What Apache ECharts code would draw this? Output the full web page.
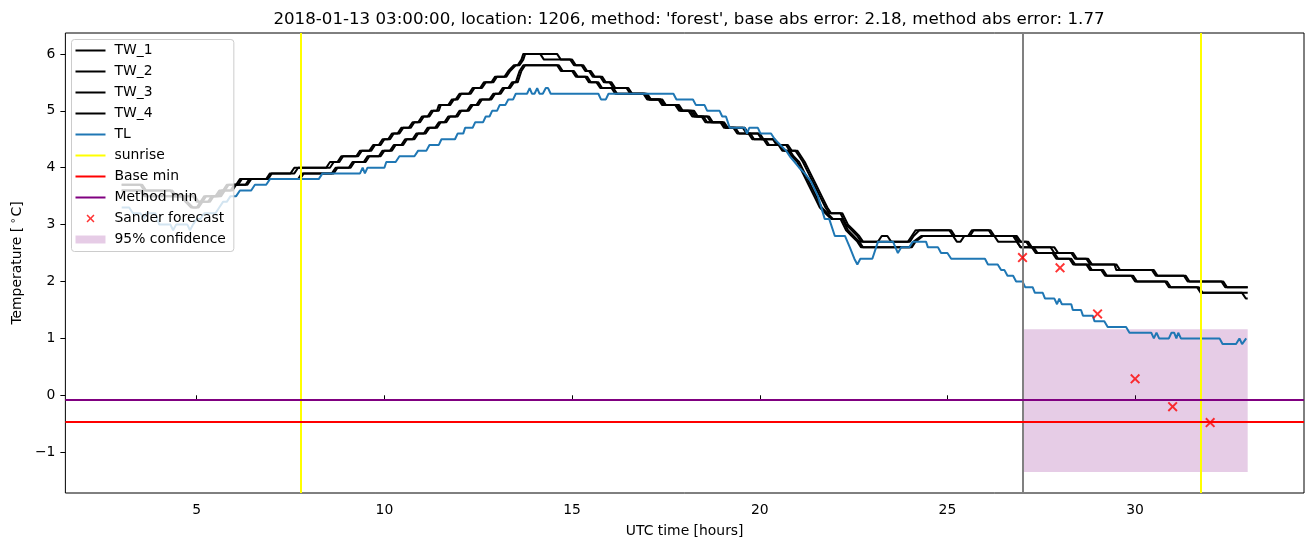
<!DOCTYPE html>
<html><head><meta charset="utf-8">
<script src="https://cdn.jsdelivr.net/npm/echarts@6/dist/echarts.min.js"></script>
<style>html,body{margin:0;padding:0;background:#fff}#c{width:1313px;height:547px}</style>
</head><body><div id="c"></div>
<script>
const titleText = "2018-01-13 03:00:00, location: 1206, method: 'forest', base abs error: 2.18, method abs error: 1.77";
const xTicks = [5, 10, 15, 20, 25, 30];
const yTicks = [-1, 0, 1, 2, 3, 4, 5, 6];

const tw1 = [[3.0,3.7],[3.5,3.7],[3.6,3.6],[4.3,3.6],[4.4,3.5],[4.9,3.5],[5.0,3.4],[5.1,3.4],[5.2,3.5],[5.5,3.5],[5.6,3.6],[5.7,3.6],[5.8,3.7],[6.05,3.7],[6.15,3.8],[6.85,3.8],[6.95,3.9],[7.5,3.9],[7.6,4.0],[8.45,4.0],[8.55,4.1],[8.75,4.1],[8.85,4.2],[9.25,4.2],[9.35,4.3],[9.6,4.3],[9.7,4.4],[9.85,4.4],[9.95,4.5],[10.1,4.5],[10.2,4.6],[10.35,4.6],[10.45,4.7],[10.65,4.7],[10.75,4.8],[10.9,4.8],[11.0,4.9],[11.15,4.9],[11.25,5.0],[11.4,5.0],[11.45,5.1],[11.7,5.1],[11.8,5.2],[11.9,5.2],[12.0,5.3],[12.25,5.3],[12.35,5.4],[12.55,5.4],[12.65,5.5],[12.85,5.5],[12.95,5.6],[13.2,5.6],[13.3,5.7],[13.35,5.7],[13.45,5.8],[13.55,5.8],[13.65,5.9],[13.7,6.0],[14.6,6.0],[14.7,5.9],[14.95,5.9],[15.05,5.8],[15.25,5.8],[15.35,5.7],[15.45,5.7],[15.55,5.6],[15.75,5.6],[15.85,5.5],[16.0,5.5],[16.1,5.4],[16.45,5.4],[16.55,5.3],[16.95,5.3],[17.05,5.2],[17.35,5.2],[17.45,5.1],[17.8,5.1],[17.9,5.0],[18.2,5.0],[18.3,4.9],[18.6,4.9],[18.7,4.8],[19.0,4.8],[19.1,4.7],[19.55,4.7],[19.65,4.6],[19.95,4.6],[20.05,4.5],[20.35,4.5],[20.45,4.4],[20.7,4.4],[20.8,4.3],[20.95,4.3],[21.05,4.2],[21.15,4.1],[21.3,3.9],[21.45,3.7],[21.6,3.5],[21.75,3.3],[21.85,3.2],[22.15,3.2],[22.3,3.0],[22.45,2.9],[22.6,2.8],[22.7,2.7],[23.95,2.7],[24.05,2.8],[24.15,2.9],[25.1,2.9],[25.2,2.8],[25.55,2.8],[25.65,2.9],[26.1,2.9],[26.2,2.8],[26.8,2.8],[26.9,2.7],[27.1,2.7],[27.2,2.6],[27.75,2.6],[27.85,2.5],[28.3,2.5],[28.4,2.4],[28.7,2.4],[28.8,2.3],[29.45,2.3],[29.5,2.2],[30.45,2.2],[30.55,2.1],[31.3,2.1],[31.4,2.0],[32.35,2.0],[32.45,1.9],[33.0,1.9]];

const tw2 = [[3.0,3.7],[3.55,3.7],[3.65,3.6],[4.35,3.6],[4.45,3.5],[4.95,3.5],[5.05,3.4],[5.15,3.4],[5.25,3.5],[5.55,3.5],[5.65,3.6],[5.75,3.6],[5.85,3.7],[6.1,3.7],[6.2,3.8],[6.9,3.8],[7.0,3.9],[7.6,3.9],[7.7,4.0],[8.55,4.0],[8.65,4.1],[8.8,4.1],[8.9,4.2],[9.3,4.2],[9.4,4.3],[9.65,4.3],[9.75,4.4],[9.9,4.4],[10.0,4.5],[10.15,4.5],[10.25,4.6],[10.4,4.6],[10.5,4.7],[10.7,4.7],[10.8,4.8],[10.95,4.8],[11.05,4.9],[11.2,4.9],[11.3,5.0],[11.45,5.0],[11.5,5.1],[11.75,5.1],[11.85,5.2],[11.95,5.2],[12.05,5.3],[12.3,5.3],[12.4,5.4],[12.6,5.4],[12.7,5.5],[12.9,5.5],[13.0,5.6],[13.25,5.6],[13.35,5.7],[13.4,5.7],[13.5,5.8],[13.6,5.8],[13.7,5.9],[13.75,6.0],[14.15,6.0],[14.25,5.9],[15.0,5.9],[15.1,5.8],[15.3,5.8],[15.4,5.7],[15.5,5.7],[15.6,5.6],[15.8,5.6],[15.9,5.5],[16.05,5.5],[16.15,5.4],[16.5,5.4],[16.6,5.3],[17.0,5.3],[17.1,5.2],[17.4,5.2],[17.5,5.1],[17.85,5.1],[17.95,5.0],[18.25,5.0],[18.35,4.9],[18.65,4.9],[18.75,4.8],[19.05,4.8],[19.15,4.7],[19.6,4.7],[19.7,4.6],[20.0,4.6],[20.1,4.5],[20.4,4.5],[20.5,4.4],[20.75,4.4],[20.85,4.3],[21.0,4.3],[21.1,4.2],[21.2,4.1],[21.35,3.9],[21.5,3.7],[21.65,3.5],[21.8,3.3],[21.9,3.2],[22.2,3.2],[22.35,3.0],[22.5,2.9],[22.65,2.8],[22.75,2.7],[23.15,2.7],[23.25,2.8],[23.4,2.8],[23.5,2.7],[24.0,2.7],[24.1,2.8],[24.25,2.9],[25.05,2.9],[25.15,2.8],[25.25,2.7],[25.35,2.7],[25.45,2.8],[25.6,2.8],[25.7,2.9],[26.15,2.9],[26.25,2.8],[26.85,2.8],[26.95,2.7],[27.15,2.7],[27.25,2.6],[27.85,2.6],[27.95,2.5],[28.35,2.5],[28.45,2.4],[28.75,2.4],[28.85,2.3],[29.5,2.3],[29.6,2.2],[30.5,2.2],[30.6,2.1],[31.35,2.1],[31.45,2.0],[32.3,2.0],[32.4,1.9],[33.0,1.9]];

const tw3 = [[3.0,3.6],[3.5,3.6],[3.6,3.5],[4.6,3.5],[4.7,3.4],[4.85,3.3],[5.0,3.3],[5.1,3.4],[5.3,3.4],[5.4,3.5],[5.6,3.5],[5.7,3.6],[5.9,3.6],[6.0,3.7],[6.3,3.7],[6.4,3.8],[7.7,3.8],[7.8,3.9],[8.6,3.9],[8.7,4.0],[9.05,4.0],[9.15,4.1],[9.45,4.1],[9.55,4.2],[9.85,4.2],[9.95,4.3],[10.15,4.3],[10.25,4.4],[10.45,4.4],[10.55,4.5],[10.75,4.5],[10.85,4.6],[11.05,4.6],[11.15,4.7],[11.35,4.7],[11.45,4.8],[11.6,4.8],[11.7,4.9],[11.9,4.9],[12.0,5.0],[12.2,5.0],[12.3,5.1],[12.45,5.1],[12.55,5.2],[12.8,5.2],[12.9,5.3],[13.05,5.3],[13.15,5.4],[13.3,5.4],[13.4,5.5],[13.5,5.5],[13.55,5.6],[13.6,5.7],[13.7,5.8],[14.6,5.8],[14.7,5.7],[15.0,5.7],[15.1,5.6],[15.35,5.6],[15.45,5.5],[15.65,5.5],[15.75,5.4],[16.05,5.4],[16.15,5.3],[16.9,5.3],[17.0,5.2],[17.3,5.2],[17.4,5.1],[17.75,5.1],[17.85,5.0],[18.1,5.0],[18.2,4.9],[18.45,4.9],[18.55,4.8],[18.95,4.8],[19.05,4.7],[19.3,4.7],[19.4,4.6],[19.7,4.6],[19.8,4.5],[20.1,4.5],[20.2,4.4],[20.5,4.4],[20.6,4.3],[20.75,4.3],[20.85,4.2],[21.0,4.1],[21.15,3.9],[21.3,3.7],[21.45,3.5],[21.6,3.3],[21.75,3.2],[21.9,3.1],[22.15,3.1],[22.3,2.9],[22.45,2.8],[22.6,2.7],[22.7,2.6],[24.0,2.6],[24.1,2.7],[24.3,2.8],[26.75,2.8],[26.85,2.7],[26.95,2.6],[27.25,2.6],[27.35,2.5],[27.8,2.5],[27.9,2.4],[28.3,2.4],[28.4,2.3],[28.7,2.3],[28.8,2.2],[29.1,2.2],[29.2,2.1],[29.9,2.1],[30.0,2.0],[30.8,2.0],[30.9,1.9],[31.65,1.9],[31.75,1.8],[33.0,1.8]];

const tw4 = [[3.0,3.6],[3.55,3.6],[3.65,3.5],[4.65,3.5],[4.75,3.4],[4.9,3.3],[5.05,3.3],[5.15,3.4],[5.35,3.4],[5.45,3.5],[5.65,3.5],[5.75,3.6],[5.95,3.6],[6.05,3.7],[6.35,3.7],[6.45,3.8],[7.75,3.8],[7.85,3.9],[8.65,3.9],[8.75,4.0],[9.1,4.0],[9.2,4.1],[9.5,4.1],[9.6,4.2],[9.9,4.2],[10.0,4.3],[10.2,4.3],[10.3,4.4],[10.5,4.4],[10.6,4.5],[10.8,4.5],[10.9,4.6],[11.1,4.6],[11.2,4.7],[11.4,4.7],[11.5,4.8],[11.65,4.8],[11.75,4.9],[11.95,4.9],[12.05,5.0],[12.25,5.0],[12.35,5.1],[12.5,5.1],[12.6,5.2],[12.85,5.2],[12.95,5.3],[13.1,5.3],[13.2,5.4],[13.35,5.4],[13.45,5.5],[13.55,5.5],[13.6,5.6],[13.65,5.7],[13.75,5.8],[14.65,5.8],[14.75,5.7],[15.05,5.7],[15.15,5.6],[15.4,5.6],[15.5,5.5],[15.7,5.5],[15.8,5.4],[16.1,5.4],[16.2,5.3],[16.95,5.3],[17.05,5.2],[17.35,5.2],[17.45,5.1],[17.8,5.1],[17.9,5.0],[18.15,5.0],[18.25,4.9],[18.5,4.9],[18.6,4.8],[19.0,4.8],[19.1,4.7],[19.35,4.7],[19.45,4.6],[19.75,4.6],[19.85,4.5],[20.15,4.5],[20.25,4.4],[20.55,4.4],[20.65,4.3],[20.8,4.3],[20.9,4.2],[21.05,4.1],[21.2,3.9],[21.35,3.7],[21.5,3.5],[21.65,3.3],[21.8,3.2],[21.95,3.1],[22.2,3.1],[22.35,2.9],[22.5,2.8],[22.65,2.7],[22.75,2.6],[24.05,2.6],[24.15,2.7],[24.35,2.8],[26.25,2.8],[26.35,2.7],[26.85,2.7],[26.95,2.6],[27.3,2.6],[27.4,2.5],[27.85,2.5],[27.95,2.4],[28.25,2.4],[28.35,2.3],[28.75,2.3],[28.85,2.2],[29.15,2.2],[29.25,2.1],[29.95,2.1],[30.05,2.0],[30.85,2.0],[30.95,1.9],[31.7,1.9],[31.8,1.8],[32.85,1.8],[32.95,1.7],[33.0,1.7]];

const tl = [[3.0,3.3],[3.2,3.3],[3.3,3.2],[3.5,3.2],[3.6,3.1],[3.65,3.2],[3.9,3.2],[4.0,3.0],[4.3,3.0],[4.37,2.9],[4.45,3.0],[4.75,3.0],[4.82,2.9],[4.9,3.0],[5.0,3.1],[5.1,3.1],[5.2,3.2],[5.5,3.2],[5.6,3.3],[5.7,3.4],[5.8,3.4],[5.9,3.5],[6.05,3.5],[6.15,3.6],[6.45,3.6],[6.55,3.7],[6.85,3.7],[6.95,3.8],[8.25,3.8],[8.35,3.9],[9.35,3.9],[9.42,4.0],[9.48,3.9],[9.55,4.0],[10.0,4.0],[10.05,4.1],[10.3,4.1],[10.4,4.2],[10.8,4.2],[10.9,4.3],[11.12,4.3],[11.2,4.4],[11.45,4.4],[11.52,4.5],[11.88,4.5],[11.95,4.6],[12.1,4.6],[12.15,4.7],[12.35,4.7],[12.42,4.8],[12.63,4.8],[12.7,4.9],[12.8,4.9],[12.87,5.0],[13.0,5.0],[13.07,5.1],[13.22,5.1],[13.3,5.2],[13.43,5.2],[13.5,5.3],[13.8,5.3],[13.87,5.4],[13.93,5.3],[14.0,5.3],[14.07,5.4],[14.13,5.3],[14.22,5.3],[14.3,5.4],[14.36,5.4],[14.43,5.3],[15.7,5.3],[15.77,5.2],[15.9,5.2],[15.97,5.3],[17.7,5.3],[17.78,5.2],[18.22,5.2],[18.3,5.1],[18.53,5.1],[18.6,5.0],[18.93,5.0],[19.0,4.9],[19.1,4.9],[19.2,4.7],[19.6,4.7],[19.66,4.6],[19.72,4.7],[19.95,4.7],[20.02,4.6],[20.3,4.6],[20.4,4.5],[20.55,4.4],[20.7,4.3],[20.8,4.2],[20.93,4.1],[21.05,4.0],[21.2,3.9],[21.37,3.75],[21.55,3.5],[21.73,3.1],[21.85,3.1],[22.0,2.8],[22.27,2.8],[22.4,2.6],[22.52,2.4],[22.6,2.3],[22.68,2.4],[23.0,2.4],[23.1,2.6],[23.15,2.7],[23.55,2.7],[23.68,2.5],[23.73,2.5],[23.77,2.6],[23.98,2.6],[24.08,2.7],[24.43,2.7],[24.48,2.6],[24.75,2.6],[24.83,2.5],[25.0,2.5],[25.1,2.4],[26.0,2.4],[26.08,2.3],[26.34,2.3],[26.43,2.2],[26.52,2.2],[26.6,2.1],[26.75,2.1],[26.83,2.0],[27.0,2.0],[27.07,1.9],[27.27,1.9],[27.33,1.8],[27.54,1.8],[27.6,1.7],[27.85,1.7],[27.92,1.6],[27.98,1.7],[28.05,1.6],[28.3,1.6],[28.34,1.5],[28.56,1.5],[28.61,1.4],[28.87,1.4],[28.92,1.3],[29.18,1.3],[29.27,1.2],[29.76,1.2],[29.85,1.1],[30.43,1.1],[30.5,1.0],[30.57,1.1],[30.64,1.0],[30.9,1.0],[30.97,1.1],[31.04,1.1],[31.1,1.0],[31.15,1.1],[31.22,1.0],[32.25,1.0],[32.33,0.9],[32.69,0.9],[32.78,1.0],[32.85,0.9],[32.96,1.0]];

const forecastX = [27, 28, 29, 30, 31, 32];
const forecastY = [2.42, 2.24, 1.43, 0.29, -0.2, -0.48];
const sunriseTimes = [7.77, 31.76];
const nowTime = 27.0;
const baseMin = -0.47;
const methodMin = -0.07;
const confX = [27, 33];
const confY = [-1.35, 1.16];

const FONT = 'DejaVu Sans';
const xPath = 'path://M0,1.1L1.1,0L4,2.9L6.9,0L8,1.1L5.1,4L8,6.9L6.9,8L4,5.1L1.1,8L0,6.9L2.9,4Z';
const xLegendPath = 'path://M0,0M30,14M11,4.1L12.1,3L15,5.9L17.9,3L19,4.1L16.1,7L19,9.9L17.9,11L15,8.1L12.1,11L11,9.9L13.9,7Z';
const rectLegendPath = 'path://M0,0M30,14M0,3L30,3L30,11L0,11Z';
const lineLegendPath = 'path://M0,0M30,14M0,6L30,6L30,8L0,8Z';

function lineSeries(name, data, color) {
  return {name, type: 'line', data, showSymbol: false, symbol: 'none', z: 3,
    lineStyle: {color, width: 2}, itemStyle: {color}, emphasis: {disabled: true}, silent: true};
}
function markSeries(name, color, lines, z) {
  return {name, type: 'line', data: [], symbol: 'none', z: z || 3,
    lineStyle: {color, width: 2}, itemStyle: {color}, silent: true,
    markLine: {symbol: ['none', 'none'], silent: true, animation: false, label: {show: false},
      lineStyle: {color, width: 2, type: 'solid'}, emphasis: {disabled: true}, data: lines}};
}
function legendLine(name, color) {
  return {name, icon: lineLegendPath, itemStyle: {color}};
}

const chart = echarts.init(document.getElementById('c'), null, {renderer: 'canvas'});
chart.setOption({
  animation: false,
  backgroundColor: '#ffffff',
  title: {text: titleText, left: 684, top: 6, textAlign: 'center',
    textStyle: {fontSize: 16.67, fontWeight: 'normal', color: '#000', fontFamily: FONT}},
  grid: {left: 64, right: 9, top: 33, bottom: 54, show: true, borderColor: '#000', borderWidth: 1, backgroundColor: 'transparent'},
  legend: {left: 71.5, top: 39.5, orient: 'vertical', itemWidth: 30, itemHeight: 14, itemGap: 7,
    padding: [4, 8, 5, 4], backgroundColor: 'rgba(255,255,255,0.8)', borderColor: '#cccccc', borderWidth: 1, borderRadius: 3,
    selectedMode: false, z: 10,
    textStyle: {fontSize: 13.9, color: '#000', fontFamily: FONT, padding: [0, 0, 0, 4]},
    data: [legendLine('TW_1', '#000000'), legendLine('TW_2', '#000000'), legendLine('TW_3', '#000000'),
      legendLine('TW_4', '#000000'), legendLine('TL', '#1f77b4'), legendLine('sunrise', '#ffff00'),
      legendLine('Base min', '#ff0000'), legendLine('Method min', '#800080'),
      {name: 'Sander forecast', icon: xLegendPath, itemStyle: {color: '#ff0000'}},
      {name: '95% confidence', icon: rectLegendPath, itemStyle: {color: 'rgba(128,0,128,0.2)'}}]},
  xAxis: {type: 'value', min: 1.5, max: 34.5,
    axisLine: {show: false}, splitLine: {show: false},
    axisTick: {show: true, length: 5, lineStyle: {color: '#000', width: 1}, customValues: xTicks},
    axisLabel: {customValues: xTicks, margin: 10, color: '#000', fontSize: 13.9, fontFamily: FONT},
    name: 'UTC time [hours]', nameLocation: 'middle', nameGap: 31,
    nameTextStyle: {color: '#000', fontSize: 13.9, fontFamily: FONT}},
  yAxis: {type: 'value', min: -1.7175, max: 6.3675,
    axisLine: {show: false}, splitLine: {show: false},
    axisTick: {show: true, length: 5, lineStyle: {color: '#000', width: 1}, customValues: yTicks},
    axisLabel: {customValues: yTicks, margin: 10, color: '#000', fontSize: 13.9, fontFamily: FONT,
      formatter: v => v < 0 ? '\u2212' + Math.abs(v) : String(v)},
    name: 'Temperature [{s|\u2218}C]', nameLocation: 'middle', nameGap: 38, nameRotate: 90,
    nameTextStyle: {color: '#000', fontSize: 13.9, fontFamily: FONT,
      rich: {s: {fontSize: 10, fontFamily: FONT, color: '#000', padding: [0, 1, 8, 3]}}}},
  series: [
    {name: '95% confidence', type: 'line', data: [], symbol: 'none', z: 1, silent: true,
      itemStyle: {color: 'rgba(128,0,128,0.2)'}, lineStyle: {color: 'rgba(128,0,128,0.2)', width: 0},
      markArea: {silent: true, itemStyle: {color: 'rgba(128,0,128,0.2)'}, emphasis: {disabled: true},
        data: [[{coord: [confX[0], confY[0]]}, {coord: [confX[1], confY[1]]}]]}},
    lineSeries('TW_1', tw1, '#000000'),
    lineSeries('TW_2', tw2, '#000000'),
    lineSeries('TW_3', tw3, '#000000'),
    lineSeries('TW_4', tw4, '#000000'),
    lineSeries('TL', tl, '#1f77b4'),
    markSeries('sunrise', '#ffff00', sunriseTimes.map(t => ({xAxis: t})), 4),
    markSeries('now', '#808080', [{xAxis: nowTime}], 4),
    markSeries('Base min', '#ff0000', [{yAxis: baseMin}], 4),
    markSeries('Method min', '#800080', [{yAxis: methodMin}], 4),
    {name: 'Sander forecast', type: 'scatter', z: 6, silent: true,
      data: forecastX.map((x, i) => [x, forecastY[i]]),
      symbol: xPath, symbolSize: 10, itemStyle: {color: '#ff0000'}}
  ]
});
</script>
</body></html>
